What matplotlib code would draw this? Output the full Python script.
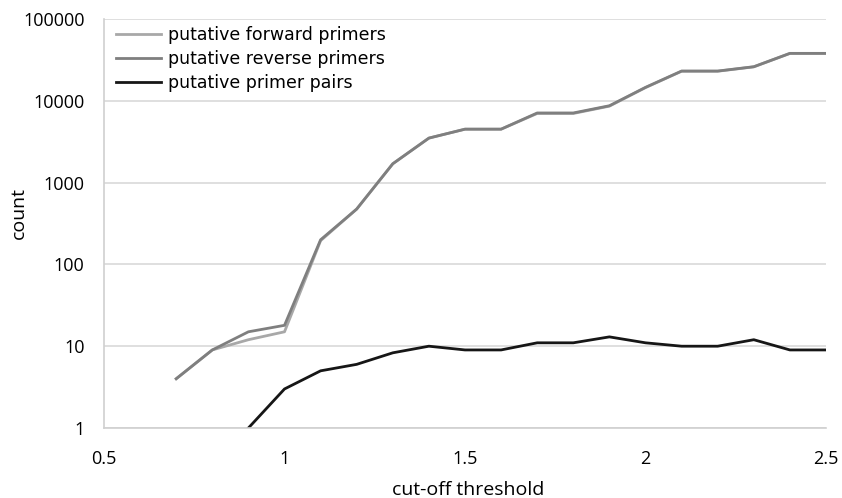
import matplotlib
matplotlib.use("Agg")
import matplotlib.pyplot as plt
from matplotlib.ticker import FixedLocator, FixedFormatter

thresholds = [0.7, 0.8, 0.9, 1.0, 1.1, 1.2, 1.3, 1.4, 1.5, 1.6, 1.7, 1.8, 1.9, 2.0, 2.1, 2.2, 2.3, 2.4, 2.5]
forward = [4, 9, 12, 15, 195, 475, 1700, 3500, 4500, 4500, 7000, 7000, 8600, 14500, 23000, 23000, 26000, 38000, 38000]
reverse = [4, 9, 15, 18, 200, 475, 1700, 3500, 4500, 4500, 7100, 7100, 8700, 14600, 23100, 23100, 26100, 38000, 38000]
pair_x = [0.9, 1.0, 1.1, 1.2, 1.3, 1.4, 1.5, 1.6, 1.7, 1.8, 1.9, 2.0, 2.1, 2.2, 2.3, 2.4, 2.5]
pairs = [1, 3, 5, 6, 8.3, 10, 9, 9, 11, 11, 13, 11, 10, 10, 12, 9, 9]

series_labels = ["putative forward primers", "putative reverse primers", "putative primer pairs"]
x_ticks = [0.5, 1, 1.5, 2, 2.5]
x_tick_labels = ["0.5", "1", "1.5", "2", "2.5"]
y_ticks = [1, 10, 100, 1000, 10000, 100000]
y_tick_labels = ["1", "10", "100", "1000", "10000", "100000"]

fig = plt.figure(figsize=(8.42, 4.98), dpi=100)
ax = fig.add_axes([104/842, 1-428/498, (826-104)/842, (428-19)/498])

ax.plot(thresholds, forward, color="#a8a8a8", lw=2.0, label=series_labels[0], solid_joinstyle="round")
ax.plot(thresholds, reverse, color="#7f7f7f", lw=2.0, label=series_labels[1], solid_joinstyle="round")
ax.plot(pair_x, pairs, color="#161616", lw=2.0, label=series_labels[2], solid_joinstyle="round")

ax.set_yscale("log")
ax.set_xlim(0.5, 2.5)
ax.set_ylim(1, 100000)
ax.yaxis.set_major_locator(FixedLocator(y_ticks))
ax.yaxis.set_major_formatter(FixedFormatter(y_tick_labels))
ax.yaxis.set_minor_locator(FixedLocator([]))
ax.xaxis.set_major_locator(FixedLocator(x_ticks))
ax.xaxis.set_major_formatter(FixedFormatter(x_tick_labels))

ax.grid(axis="y", color="#d9d9d9", lw=1.2)
ax.set_axisbelow(True)
for s in ["top", "right"]:
    ax.spines[s].set_visible(False)
for s in ["left", "bottom"]:
    ax.spines[s].set_color("#d0d0d0")
    ax.spines[s].set_linewidth(1.2)
ax.tick_params(axis="y", length=0, labelsize=13, colors="black", pad=14)
ax.tick_params(axis="x", length=0, labelsize=13, colors="black", pad=16)
for lab in ax.get_xticklabels() + ax.get_yticklabels():
    lab.set_fontfamily("Open Sans")

ax.set_xlabel("cut-off threshold", fontsize=14, family="Open Sans", va="baseline")
ax.xaxis.set_label_coords(0.5045, (428 - 495) / 409)
ax.set_ylabel("count", fontsize=14, family="Open Sans", va="baseline")
ax.yaxis.set_label_coords((24 - 104) / 722, (428 - 213) / 409)

leg = ax.legend(loc="upper left", bbox_to_anchor=(0.007, 1.0), frameon=False,
                prop={"family": "DejaVu Sans", "size": 12.5}, handlelength=2.6,
                handletextpad=0.4, labelspacing=0.36, borderaxespad=0.0)

fig.savefig("out.png", dpi=100)
